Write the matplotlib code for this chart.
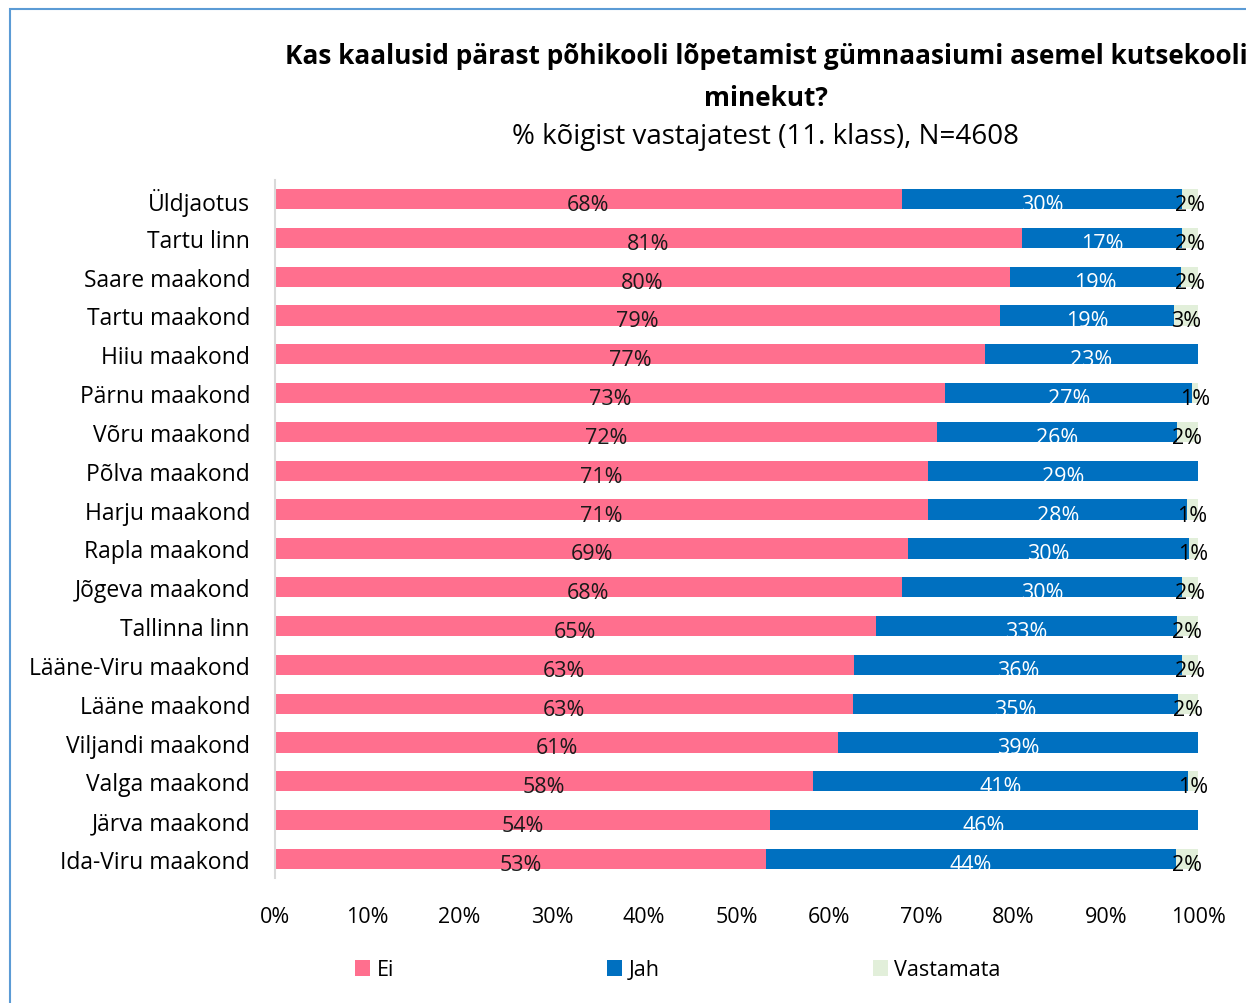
"""
Kas kaalusid pärast põhikooli lõpetamist gümnaasiumi asemel kutsekooli minekut?
Stacked horizontal bar chart, % of all respondents (11th grade).

Output: out.png
"""
import matplotlib
matplotlib.use('Agg')  # Non-interactive backend
import matplotlib.pyplot as plt
from matplotlib.patches import Rectangle

# Data
categories = [
    'Üldjaotus', 'Tartu linn', 'Saare maakond', 'Tartu maakond', 'Hiiu maakond',
    'Pärnu maakond', 'Võru maakond', 'Põlva maakond', 'Harju maakond',
    'Rapla maakond', 'Jõgeva maakond', 'Tallinna linn', 'Lääne-Viru maakond',
    'Lääne maakond', 'Viljandi maakond', 'Valga maakond', 'Järva maakond',
    'Ida-Viru maakond',
]
ei = [67.9, 80.9, 79.6, 78.6, 76.9, 72.6, 71.7, 70.8, 70.8,
      68.6, 67.9, 65.1, 62.7, 62.6, 61.0, 58.3, 53.6, 53.2]
jah = [30.4, 17.4, 18.6, 18.8, 23.1, 26.8, 26.0, 29.2, 28.0,
       30.4, 30.4, 32.6, 35.6, 35.2, 39.0, 40.6, 46.4, 44.4]
vastamata = [1.7, 1.7, 1.8, 2.6, 0.0, 0.6, 2.3, 0.0, 1.2,
             1.0, 1.7, 2.3, 1.7, 2.2, 0.0, 1.1, 0.0, 2.4]
series_names = ['Ei', 'Jah', 'Vastamata']
xticks = [0, 10, 20, 30, 40, 50, 60, 70, 80, 90, 100]

COLORS = ['#FF6F8E', '#0070C0', '#E2EFDA']
LABEL_COLORS = ['#1a1a1a', 'white', 'black']

plt.rcParams['font.family'] = ['Open Sans', 'DejaVu Sans']

W, H = 1246, 1004
fig = plt.figure(figsize=(W / 100, H / 100), dpi=100)

# light blue frame (chart area border, cut off at right/bottom)
fig.patches.append(Rectangle((10 / W, -0.1), 1.2, (H - 10) / H + 0.1,
                             transform=fig.transFigure, fill=False,
                             edgecolor='#5B9BD5', linewidth=1.5))

# axes placed in pixel coordinates
left, right = 275, 1198
top, bottom = 180.6, 879.4
ax = fig.add_axes([left / W, 1 - bottom / H, (right - left) / W, (bottom - top) / H])

y = list(range(len(categories)))
lefts = [0.0] * len(categories)
for name, vals, col, lcol in zip(series_names, [ei, jah, vastamata], COLORS, LABEL_COLORS):
    ax.barh(y, vals, left=lefts, height=0.52, color=col, label=name,
            edgecolor='none')
    for i, (l, v) in enumerate(zip(lefts, vals)):
        if v > 0:
            ax.text(l + v / 2, i + 0.14, f'{v:.0f}%', ha='center', va='center',
                    fontsize=15.5, color=lcol)
    lefts = [a + b for a, b in zip(lefts, vals)]

ax.set_xlim(0, 100)
ax.set_ylim(len(categories) - 0.5, -0.5)
ax.set_yticks(y)
ax.set_yticklabels(categories, fontsize=16.5)
ax.set_xticks(xticks)
ax.set_xticklabels([f'{t}%' for t in xticks], fontsize=15.5)
ax.tick_params(axis='y', length=0, pad=18)
ax.tick_params(axis='x', length=0, pad=20)
for s in ['top', 'right', 'bottom']:
    ax.spines[s].set_visible(False)
ax.spines['left'].set_color('#D9D9D9')
ax.spines['left'].set_linewidth(1.5)

# titles
fig.text(766 / W, 1 - 57 / H, 'Kas kaalusid pärast põhikooli lõpetamist gümnaasiumi asemel kutsekooli',
         ha='center', va='center', fontsize=18.9, fontweight='bold')
fig.text(766 / W, 1 - 98 / H, 'minekut?', ha='center', va='center',
         fontsize=18.9, fontweight='bold')
fig.text(766 / W, 1 - 137 / H, '% kõigist vastajatest (11. klass), N=4608',
         ha='center', va='center', fontsize=20)

# legend
handles, labels = ax.get_legend_handles_labels()
fig.legend(handles, labels, loc='center', bbox_to_anchor=(678 / W, 1 - 971 / H),
           ncol=3, frameon=False, fontsize=15.5, handlelength=0.7, handleheight=0.7,
           handletextpad=0.3, columnspacing=9.9)

fig.savefig('out.png', dpi=100)
